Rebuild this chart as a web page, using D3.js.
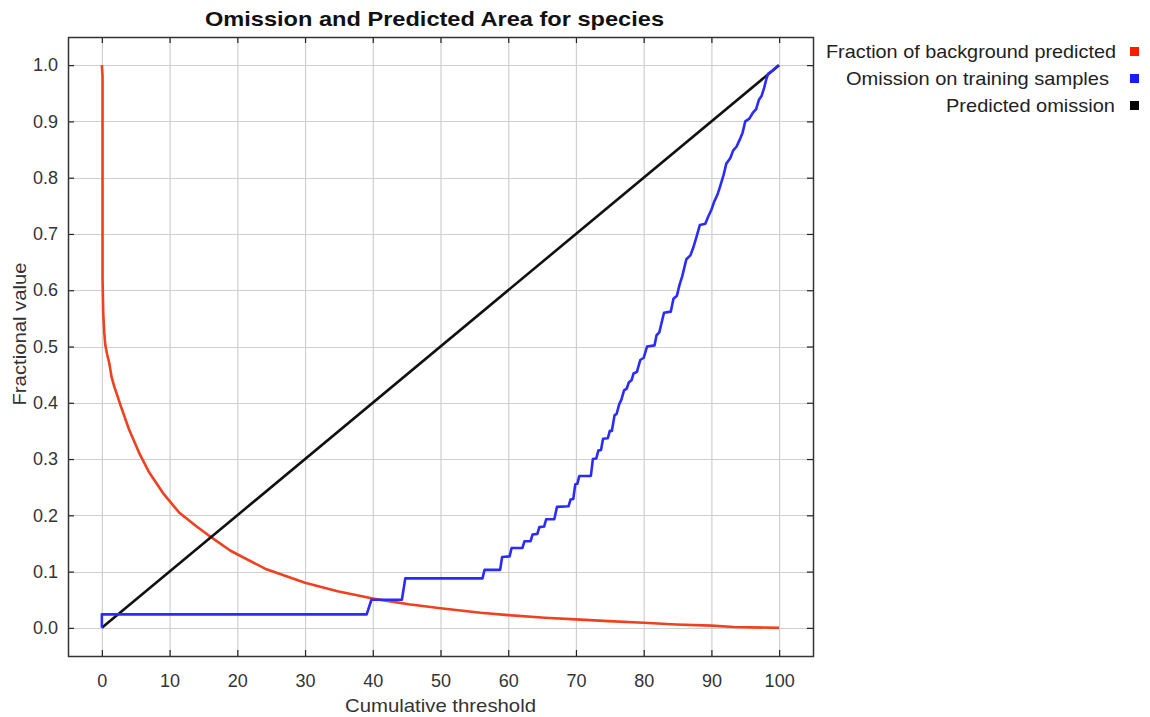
<!DOCTYPE html>
<html>
<head>
<meta charset="utf-8">
<script src="https://cdn.jsdelivr.net/npm/d3@7"></script>
<style>
  html, body { margin: 0; padding: 0; background: #fff; }
  svg { display: block; font-family: "Liberation Sans", Arial, sans-serif; }
</style>
</head>
<body>
<svg id="chart" width="1150" height="717"></svg>
<script>
// ---- data ----
const chartTitle = "Omission and Predicted Area for species";
const xLabel = "Cumulative threshold";
const yLabel = "Fractional value";
const xTicks = [0, 10, 20, 30, 40, 50, 60, 70, 80, 90, 100];
const yTicks = [0, 0.1, 0.2, 0.3, 0.4, 0.5, 0.6, 0.7, 0.8, 0.9, 1.0];
const seriesNames = ["Fraction of background predicted", "Omission on training samples", "Predicted omission"];
const seriesColors = ["#f0401f", "#2b2bff", "#111111"];
const legendColors = ["#ff1a00", "#1a1aff", "#000000"];

// Fraction of background predicted
const backgroundX = [0, 0.1, 0.1, 0.2, 0.35, 0.5, 0.8, 1.1, 1.45, 1.8, 2.8, 4.0, 5.5, 7.0, 9.0, 11.4, 13.9, 15.8, 19.0, 24.3, 30, 34.8, 40, 45.3, 50, 55.9, 60, 65.4, 70, 74.8, 80, 84.8, 90, 93.3, 100];
const backgroundY = [1.0, 0.98, 0.622, 0.56, 0.525, 0.503, 0.485, 0.47, 0.445, 0.43, 0.394, 0.353, 0.311, 0.276, 0.24, 0.205, 0.181, 0.164, 0.137, 0.104, 0.08, 0.065, 0.052, 0.042, 0.035, 0.027, 0.0226, 0.018, 0.015, 0.012, 0.009, 0.006, 0.004, 0.0015, 0.0];

// Omission on training samples
const omissionX = [0, 0, 39.1, 39.8, 44.3, 44.8, 56.2, 56.5, 58.8, 59.1, 60.2, 60.5, 62.1, 62.4, 63.3, 63.6, 64.3, 64.6, 65.3, 65.6, 66.8, 67.2, 68.9, 69.2, 69.6, 69.9, 70.2, 70.5, 72.2, 72.5, 73.0, 73.3, 73.7, 74.0, 74.7, 75.0, 75.3, 75.7, 76.0, 76.4, 76.7, 77.1, 77.5, 77.8, 78.2, 78.5, 79.0, 79.5, 80.0, 80.5, 81.6, 81.9, 82.3, 83.0, 84.0, 84.4, 84.9, 85.3, 85.7, 86.3, 86.9, 87.3, 87.8, 88.3, 89.1, 89.5, 90.0, 90.4, 90.9, 91.3, 91.8, 92.2, 92.8, 93.2, 93.7, 94.2, 94.6, 95.0, 95.6, 96.1, 96.6, 97.0, 97.4, 97.8, 98.1, 98.4, 99.0, 99.9];
const omissionY = [0, 0.024, 0.024, 0.05, 0.05, 0.088, 0.088, 0.103, 0.103, 0.126, 0.127, 0.142, 0.142, 0.154, 0.154, 0.166, 0.167, 0.179, 0.18, 0.193, 0.193, 0.215, 0.216, 0.228, 0.229, 0.255, 0.256, 0.27, 0.27, 0.3, 0.301, 0.315, 0.316, 0.336, 0.337, 0.35, 0.35, 0.378, 0.38, 0.398, 0.405, 0.422, 0.425, 0.436, 0.44, 0.452, 0.455, 0.476, 0.48, 0.5, 0.502, 0.52, 0.525, 0.56, 0.562, 0.585, 0.59, 0.61, 0.625, 0.655, 0.662, 0.675, 0.695, 0.716, 0.718, 0.73, 0.743, 0.757, 0.77, 0.785, 0.805, 0.825, 0.835, 0.848, 0.855, 0.868, 0.88, 0.9, 0.905, 0.915, 0.922, 0.938, 0.945, 0.96, 0.975, 0.985, 0.99, 1.0];

// Predicted omission
const predictedX = [0, 100];
const predictedY = [0, 1];

// ---- drawing ----
const svg = d3.select("#chart");
const plot = { left: 68, right: 813, top: 37, bottom: 656 };

const x = d3.scaleLinear().domain([-5, 105]).range([plot.left, plot.right]);
const y = d3.scaleLinear().domain([-0.05, 1.05]).range([plot.bottom, plot.top]);

// gridlines
const grid = svg.append("g");
grid.selectAll("line.gx").data(xTicks).join("line")
  .attr("x1", d => x(d) + 0.5).attr("x2", d => x(d) + 0.5)
  .attr("y1", plot.top).attr("y2", plot.bottom)
  .attr("stroke", "#cfcfcf").attr("stroke-width", 1.2);
grid.selectAll("line.gy").data(yTicks).join("line")
  .attr("y1", d => Math.round(y(d)) + 0.5).attr("y2", d => Math.round(y(d)) + 0.5)
  .attr("x1", plot.left).attr("x2", plot.right)
  .attr("stroke", "#cfcfcf").attr("stroke-width", 1.2);

// axes
const tickLen = 6;
const fmtY = d3.format(".1f");
const axB = svg.append("g").attr("transform", `translate(0,${plot.bottom})`)
  .call(d3.axisBottom(x).tickValues(xTicks).tickSizeInner(-tickLen).tickSizeOuter(0).tickPadding(18));
const axT = svg.append("g").attr("transform", `translate(0,${plot.top})`)
  .call(d3.axisTop(x).tickValues(xTicks).tickSizeInner(-tickLen).tickSizeOuter(0).tickFormat(""));
const axL = svg.append("g").attr("transform", `translate(${plot.left},0)`)
  .call(d3.axisLeft(y).tickValues(yTicks).tickSizeInner(-tickLen).tickSizeOuter(0).tickFormat(fmtY).tickPadding(10));
const axR = svg.append("g").attr("transform", `translate(${plot.right},0)`)
  .call(d3.axisRight(y).tickValues(yTicks).tickSizeInner(-tickLen).tickSizeOuter(0).tickFormat(""));
[axB, axT, axL, axR].forEach(a => {
  a.select(".domain").remove();
  a.selectAll(".tick line").attr("stroke", "#222").attr("stroke-width", 1.2);
  a.selectAll(".tick text").attr("fill", "#333").style("font-size", "18px")
    .style("font-family", "'Liberation Sans', Arial, sans-serif");
});

// frame
svg.append("rect")
  .attr("x", plot.left + 0.5).attr("y", plot.top + 0.5)
  .attr("width", plot.right - plot.left).attr("height", plot.bottom - plot.top)
  .attr("fill", "none").attr("stroke", "#333").attr("stroke-width", 1.5);

// series
const line = d3.line().x(d => x(d[0])).y(d => y(d[1]));
const series = [
  d3.zip(backgroundX, backgroundY),
  d3.zip(omissionX, omissionY),
  d3.zip(predictedX, predictedY)
];
const drawOrder = [0, 2, 1];
drawOrder.forEach(i => {
  svg.append("path").datum(series[i])
    .attr("d", line)
    .attr("fill", "none")
    .attr("stroke", seriesColors[i])
    .attr("stroke-width", 2.6)
    .attr("stroke-linejoin", "round");
});

// title
svg.append("text")
  .attr("x", 434.5).attr("y", 26)
  .attr("text-anchor", "middle")
  .attr("textLength", 459).attr("lengthAdjust", "spacingAndGlyphs")
  .style("font-size", "21px").style("font-weight", "bold").attr("fill", "#111")
  .text(chartTitle);

// axis labels
svg.append("text")
  .attr("x", x(50)).attr("y", 712)
  .attr("text-anchor", "middle")
  .attr("textLength", 191).attr("lengthAdjust", "spacingAndGlyphs")
  .style("font-size", "19px").attr("fill", "#333")
  .text(xLabel);
svg.append("text")
  .attr("transform", `translate(26,334) rotate(-90)`)
  .attr("text-anchor", "middle")
  .attr("textLength", 143).attr("lengthAdjust", "spacingAndGlyphs")
  .style("font-size", "19px").attr("fill", "#333")
  .text(yLabel);

// legend
const legendWidths = [290, 263, 169];
const legendEnds = [1116, 1109, 1115];
const legend = svg.append("g");
seriesNames.forEach((name, i) => {
  const base = 58 + i * 27;
  legend.append("text")
    .attr("x", legendEnds[i]).attr("y", base)
    .attr("text-anchor", "end")
    .attr("textLength", legendWidths[i]).attr("lengthAdjust", "spacingAndGlyphs")
    .style("font-size", "19px").attr("fill", "#222")
    .text(name);
  legend.append("rect")
    .attr("x", 1130).attr("y", base - 11)
    .attr("width", 9).attr("height", 9)
    .attr("fill", legendColors[i]);
});
</script>
</body>
</html>
